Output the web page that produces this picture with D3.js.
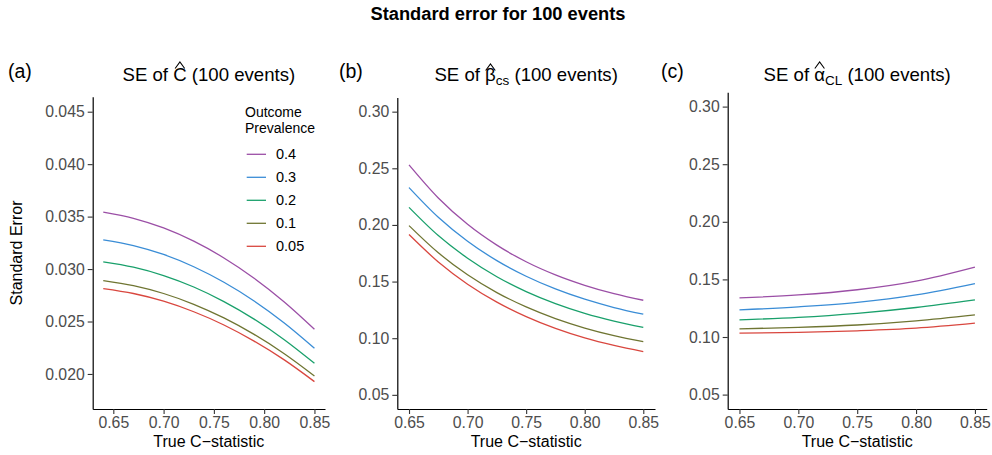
<!DOCTYPE html>
<html>
<head>
<meta charset="utf-8">
<script src="https://cdn.jsdelivr.net/npm/d3@7"></script>
<style>
  body { margin: 0; background: #fff; }
  svg { display: block; }
  text { font-family: "Liberation Sans", Arial, Helvetica, sans-serif; }
</style>
</head>
<body>
<div id="chart"></div>
<script>
// outcome prevalence groups (legend order) and their colours
const prevalences = ["0.4", "0.3", "0.2", "0.1", "0.05"];
const lineColors = ["#9B4FA6", "#3A8DD6", "#19A06B", "#6F7532", "#D9473F"];

// (a) SE of C-hat
const cA = [0.64, 0.67, 0.70, 0.73, 0.76, 0.79, 0.82, 0.85];
const seA = [
  [0.03543, 0.03484, 0.03392, 0.03266, 0.03106, 0.02913, 0.02687, 0.02427],
  [0.03279, 0.03224, 0.03139, 0.03022, 0.02874, 0.02696, 0.02486, 0.02245],
  [0.03069, 0.03018, 0.02938, 0.02829, 0.02690, 0.02523, 0.02327, 0.02102],
  [0.02890, 0.02842, 0.02767, 0.02664, 0.02534, 0.02377, 0.02193, 0.01981],
  [0.02814, 0.02767, 0.02694, 0.02593, 0.02467, 0.02313, 0.02134, 0.01927]
];
const yTicksA = [0.020, 0.025, 0.030, 0.035, 0.040, 0.045];

// (b) SE of beta-hat cs
const cB = [0.65, 0.675, 0.70, 0.725, 0.75, 0.775, 0.80, 0.825, 0.85];
const seB = [
  [0.2530, 0.2238, 0.2006, 0.1822, 0.1675, 0.1559, 0.1467, 0.1393, 0.1335],
  [0.2330, 0.2068, 0.1856, 0.1685, 0.1547, 0.1435, 0.1344, 0.1271, 0.1212],
  [0.2155, 0.1906, 0.1706, 0.1543, 0.1412, 0.1306, 0.1220, 0.1151, 0.1095],
  [0.1994, 0.1754, 0.1560, 0.1403, 0.1276, 0.1173, 0.1090, 0.1023, 0.0969],
  [0.1915, 0.1673, 0.1477, 0.1319, 0.1191, 0.1087, 0.1003, 0.0936, 0.0881]
];

// (c) SE of alpha-hat CL
const cC = [0.65, 0.70, 0.75, 0.80, 0.85];
const seC = [
  [0.1339, 0.1365, 0.1410, 0.1485, 0.1607],
  [0.1235, 0.1262, 0.1300, 0.1365, 0.1464],
  [0.1149, 0.1170, 0.1205, 0.1256, 0.1322],
  [0.1071, 0.1083, 0.1104, 0.1140, 0.1192],
  [0.1034, 0.1040, 0.1054, 0.1077, 0.1120]
];
const yTicksBC = [0.05, 0.10, 0.15, 0.20, 0.25, 0.30];
const xTicks = [0.65, 0.70, 0.75, 0.80, 0.85];

const W = 992, H = 455;
const svg = d3.select("#chart").append("svg")
  .attr("width", W).attr("height", H);

svg.append("text")
  .attr("x", 498).attr("y", 20)
  .attr("text-anchor", "middle")
  .attr("font-size", 18.3).attr("font-weight", "bold")
  .text("Standard error for 100 events");

const panels = [
  { tag: "(a)", tagX: 8, letter: "C", sub: null, c: cA, se: seA,
    x0: 92.7, x1: 325, top: 96.7, bottom: 409,
    xDom: [0.6295, 0.8605], yDom: [0.01666, 0.04643], yTicks: yTicksA, fmt: ".3f" },
  { tag: "(b)", tagX: 339, letter: "\u03B2", sub: "cs", c: cB, se: seB,
    x0: 397.3, x1: 655, top: 97.5, bottom: 409,
    xDom: [0.64, 0.86], yDom: [0.0375, 0.3125], yTicks: yTicksBC, fmt: ".2f" },
  { tag: "(c)", tagX: 661, letter: "\u03B1", sub: "CL", c: cC, se: seC,
    x0: 727.7, x1: 986.7, top: 92.2, bottom: 409,
    xDom: [0.64, 0.86], yDom: [0.0375, 0.3125], yTicks: yTicksBC, fmt: ".2f" }
];

panels.forEach(p => {
  const x = d3.scaleLinear().domain(p.xDom).range([p.x0, p.x1]);
  const y = d3.scaleLinear().domain(p.yDom).range([p.bottom, p.top]);
  const g = svg.append("g");

  // panel tag
  g.append("text").attr("x", p.tagX).attr("y", 78)
    .attr("font-size", 19.5).text(p.tag);

  // panel title with hat
  const cx = (p.x0 + p.x1) / 2;
  const t = g.append("text").attr("x", cx).attr("y", 81)
    .attr("text-anchor", "middle").attr("font-size", 18.6);
  t.append("tspan").text("SE of ");
  t.append("tspan").text(p.letter);
  if (p.sub) {
    t.append("tspan").attr("dy", 4).attr("font-size", 13.5).text(p.sub);
    t.append("tspan").attr("dy", -4).text(" (100 events)");
  } else {
    t.append("tspan").text(" (100 events)");
  }
  const ext = t.node().getExtentOfChar(6);
  const hx = ext.x + ext.width / 2;
  const hy = p.letter === "\u03B2" ? 64 : 62;
  g.append("path")
    .attr("d", `M${hx - 4.8},${hy + 6.5}L${hx},${hy}L${hx + 4.8},${hy + 6.5}`)
    .attr("fill", "none").attr("stroke", "#000").attr("stroke-width", 1.1);

  // axes
  const yAxis = g.append("g").attr("transform", `translate(${p.x0},0)`)
    .call(d3.axisLeft(y).tickValues(p.yTicks).tickFormat(d3.format(p.fmt))
      .tickSize(5).tickPadding(3).tickSizeOuter(0));
  const xAxis = g.append("g").attr("transform", `translate(0,${p.bottom})`)
    .call(d3.axisBottom(x).tickValues(xTicks).tickFormat(d3.format(".2f"))
      .tickSize(5).tickPadding(2.5).tickSizeOuter(0));
  [yAxis, xAxis].forEach(a => {
    a.select(".domain").attr("stroke", "#000").attr("stroke-width", 1.2);
    a.selectAll(".tick line").attr("stroke", "#333").attr("stroke-width", 1.1);
    a.selectAll(".tick text").attr("fill", "#4D4D4D")
      .attr("font-size", 15.8).attr("font-family", null);
  });

  g.append("text").attr("x", cx).attr("y", 446.5)
    .attr("text-anchor", "middle").attr("font-size", 16)
    .text("True C\u2212statistic");

  // lines
  const line = d3.line().x(d => x(d[0])).y(d => y(d[1])).curve(d3.curveMonotoneX);
  p.se.forEach((vals, i) => {
    g.append("path")
      .datum(p.c.map((cv, j) => [cv, vals[j]]))
      .attr("d", line)
      .attr("fill", "none")
      .attr("stroke", lineColors[i])
      .attr("stroke-width", 1.3);
  });
});

// y axis title
svg.append("text")
  .attr("transform", "translate(21.5,253) rotate(-90)")
  .attr("text-anchor", "middle").attr("font-size", 16)
  .text("Standard Error");

// legend inside panel (a)
const lg = svg.append("g");
lg.append("text").attr("x", 245).attr("y", 116.5).attr("font-size", 14).text("Outcome");
lg.append("text").attr("x", 245).attr("y", 133).attr("font-size", 14).text("Prevalence");
prevalences.forEach((pv, i) => {
  const yy = 154.3 + i * 23;
  lg.append("line").attr("x1", 246.7).attr("x2", 266).attr("y1", yy).attr("y2", yy)
    .attr("stroke", lineColors[i]).attr("stroke-width", 1.3);
  lg.append("text").attr("x", 276).attr("y", yy).attr("dy", "0.35em")
    .attr("font-size", 14.5).text(pv);
});
</script>
</body>
</html>
